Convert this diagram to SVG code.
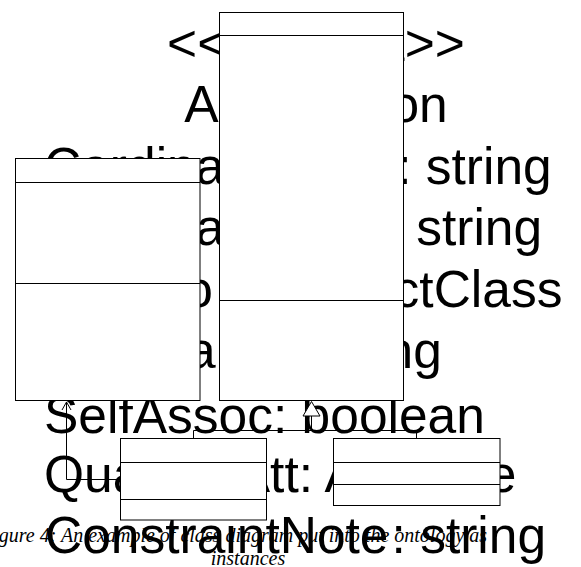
<svg xmlns="http://www.w3.org/2000/svg" width="581" height="567" viewBox="0 0 581 567">
<style>
.big{font-family:"Liberation Sans",Arial,sans-serif;font-size:51.5px;fill:#000}
.cap{font-family:"Liberation Serif","Times New Roman",serif;font-style:italic;font-size:20px;fill:#000}
.box rect{fill:#fff;stroke:#000;stroke-width:1}
.box line{stroke:#000;stroke-width:1}
.conn{fill:none;stroke:#000;stroke-width:1}
</style>
<rect width="581" height="567" fill="#fff"/>
<g id="bigtext">
<text class="big" x="316" y="61" text-anchor="middle">&lt;&lt;Context&gt;&gt;</text>
<text class="big" x="316" y="122" text-anchor="middle">Association</text>
<text class="big" x="44" y="184">CardinalityDest<tspan dx="4">: string</tspan></text>
<text class="big" x="44" y="245">CardinalityOrig<tspan dx="3">: string</tspan></text>
<text class="big" x="44" y="307">LeadTo<tspan dx="6">: AbstractClass</tspan></text>
<text class="big" x="44" y="368">RoleName: string</text>
<text class="big" x="44" y="433">SelfAssoc: boolean</text>
<text class="big" x="44" y="492">QualifierAtt: Attribute</text>
<text class="big" x="45" y="553">ConstraintNote<tspan dx="3">: string</tspan></text>
</g>
<g id="caption">
<text class="cap" x="-19" y="542">Figure 4: An example of class diagram put into the ontology as</text>
<text class="cap" x="248" y="565" text-anchor="middle">instances</text>
</g>
<g id="connectors">
<path class="conn" d="M66.5,402 V479.5 H120.5"/>
<path class="conn" d="M62,410 L66.5,402 L71,410"/>
<path class="conn" d="M193.5,438.5 V430.5 H416.5 V438.5 M311.5,430.5 V416"/>
<polygon points="311.5,401.5 303,416 320,416" fill="#fff" stroke="#000" stroke-width="1"/>
</g>
<g id="node-left" class="box">
<rect x="15.5" y="158.5" width="184.5" height="242"/>
<line x1="15.5" y1="182.5" x2="200" y2="182.5"/>
<line x1="15.5" y1="283.5" x2="200" y2="283.5"/>
</g>
<g id="node-association" class="box">
<rect x="219.5" y="12.5" width="184" height="388"/>
<line x1="219.5" y1="35.5" x2="403.5" y2="35.5"/>
<line x1="219.5" y1="300.5" x2="403.5" y2="300.5"/>
</g>
<g id="node-lower-left" class="box">
<rect x="120.5" y="438.5" width="146" height="81.5"/>
<line x1="120.5" y1="462.5" x2="266.5" y2="462.5"/>
<line x1="120.5" y1="499.5" x2="266.5" y2="499.5"/>
</g>
<g id="node-lower-right" class="box">
<rect x="333.5" y="438.5" width="166.5" height="67"/>
<line x1="333.5" y1="462.5" x2="500" y2="462.5"/>
<line x1="333.5" y1="484.5" x2="500" y2="484.5"/>
</g>
</svg>
